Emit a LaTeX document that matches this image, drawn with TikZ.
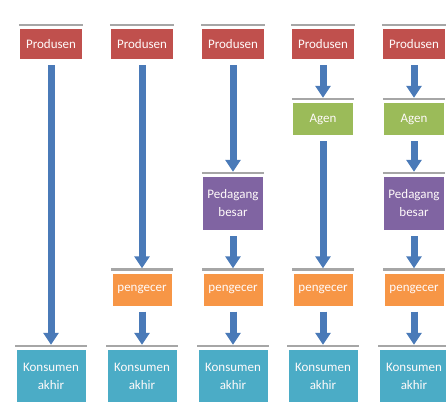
\documentclass[tikz,border=0pt]{standalone}
\usepackage{fontspec}
\setmainfont{Carlito}
\usetikzlibrary{arrows.meta}
\definecolor{prodred}{HTML}{C0504D}
\definecolor{agengreen}{HTML}{9BBB59}
\definecolor{pedpurple}{HTML}{8064A2}
\definecolor{ecerorange}{HTML}{F79646}
\definecolor{konsteal}{HTML}{4BACC6}
\definecolor{flowblue}{HTML}{4A7AB8}
\definecolor{bargray}{HTML}{A6A6A6}
\tikzset{
  box/.style={inner sep=0pt, text=white!92!pink, font=\fontsize{13}{18}\selectfont, align=center},
  prod/.style={box, fill=prodred, minimum width=62pt, minimum height=30pt},
  agen/.style={box, fill=agengreen, minimum width=60pt, minimum height=32pt},
  ped/.style={box, fill=pedpurple, minimum width=60pt, minimum height=53pt},
  ecer/.style={box, fill=ecerorange, minimum width=59pt, minimum height=32pt},
  kons/.style={box, fill=konsteal, minimum width=69pt, minimum height=52pt},
  bar/.style={bargray, line width=2.5pt},
  flow/.style={flowblue, line width=7pt, -{Triangle[width=15pt,length=12pt]}}
}
\begin{document}
\begin{tikzpicture}[x=1pt,y=-1pt]
  %%%%% START %%%%%
  \useasboundingbox (0,0) rectangle (446,414);

  % top row
  \foreach \c/\x in {1/51,2/142,3/233,4/323,5/414}{
    \node[prod] (p\c) at (\x,44) {Produsen};
    \node[kons] (k\c) at (\x,376) {Konsumen\\akhir};
  }
  \foreach \c/\x in {2/142,3/233,4/323,5/414}
    \node[ecer] (e\c) at (\x,289.5) {pengecer};
  \foreach \c/\x in {4/323,5/414}
    \node[agen] (a\c) at (\x,119) {Agen};
  \foreach \c/\x in {3/233,5/414}
    \node[ped] (d\c) at (\x,203.5) {Pedagang\\besar};

  % gray bars
  \foreach \n in {p1,p2,p3,p4,p5,k1,k2,k3,k4,k5,e2,e3,e4,e5,a4,a5,d3,d5}
    \draw[bar] ([xshift=-1pt,yshift=4pt]\n.north west) -- ([xshift=1pt,yshift=4pt]\n.north east);

  % arrows
  \foreach \s/\t in {p1/k1,p2/e2,e2/k2,p3/d3,d3/e3,e3/k3,p4/a4,a4/e4,e4/k4,p5/a5,a5/d5,d5/e5,e5/k5}
    \draw[flow] ([yshift=-6pt]\s.south) -- ([yshift=5pt]\t.north);
  %%%%% END %%%%%
\end{tikzpicture}
\end{document}
